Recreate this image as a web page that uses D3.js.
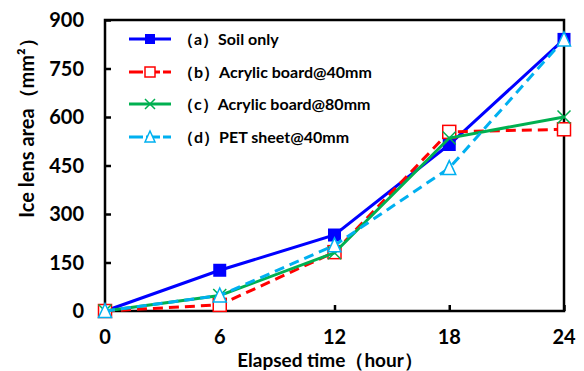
<!DOCTYPE html>
<html><head><meta charset="utf-8">
<script src="https://cdn.jsdelivr.net/npm/d3@7"></script>
<style>body{margin:0;background:#fff}svg{display:block}text{font-family:Lato,"Open Sans",sans-serif;font-weight:bold;fill:#000}</style>
</head><body><svg id="c" width="584" height="371"></svg>
<script>
const hours = [0, 6, 12, 18, 24];
const soilOnly = [0, 126, 235, 515, 840];
const acrylic40 = [0, 19, 182, 554, 562];
const acrylic80 = [0, 48, 180, 535, 600];
const pet40 = [0, 48, 203, 442, 840];
const yTicks = [0, 150, 300, 450, 600, 750, 900];
const xTicks = [0, 6, 12, 18, 24];
const seriesNames = ["（a）Soil only", "（b）Acrylic board@40mm", "（c）Acrylic board@80mm", "（d）PET sheet@40mm"];
const xTitle = "Elapsed time（hour）";
const yTitle = "Ice lens area（mm²）";

const svg = d3.select("#c");
const L = 105, R = 564, T = 20, B = 311;
const x = d3.scaleLinear().domain([0, 24]).range([L, R]);
const y = d3.scaleLinear().domain([0, 900]).range([B, T]);

// frame
svg.append("rect").attr("x", L).attr("y", T).attr("width", R - L).attr("height", B - T)
  .attr("fill", "none").attr("stroke", "#000").attr("stroke-width", 2.5);

// axes
const yAxis = d3.axisRight(y).tickValues(yTicks).tickSize(6).tickFormat("");
const gy = svg.append("g").attr("transform", `translate(${L},0)`).call(yAxis);
gy.select(".domain").remove();
gy.selectAll("line").attr("stroke", "#000").attr("stroke-width", 2.5);
const xAxis = d3.axisTop(x).tickValues(xTicks).tickSize(6).tickFormat("");
const gx = svg.append("g").attr("transform", `translate(0,${B})`).call(xAxis);
gx.select(".domain").remove();
gx.selectAll("line").attr("stroke", "#000").attr("stroke-width", 2.5);

// tick labels
svg.selectAll(".yl").data(yTicks).enter().append("text")
  .attr("x", L - 21).attr("y", d => y(d)).attr("dy", "0.36em")
  .attr("text-anchor", "end").attr("font-size", 20).text(d => d);
svg.selectAll(".xl").data(xTicks).enter().append("text")
  .attr("x", d => x(d)).attr("y", 344)
  .attr("text-anchor", "middle").attr("font-size", 20).text(d => d);

// titles
svg.append("text").attr("x", 330).attr("y", 367).attr("text-anchor", "middle")
  .attr("font-size", 19).text(xTitle);
svg.append("text").attr("transform", "translate(34,123) rotate(-90)")
  .attr("text-anchor", "middle").attr("font-size", 20).text(yTitle);

const series = [
  {name: seriesNames[0], vals: soilOnly, color: "#0000FF", dash: null, marker: "fsquare"},
  {name: seriesNames[1], vals: acrylic40, color: "#FF0000", dash: "10,6", marker: "osquare"},
  {name: seriesNames[2], vals: acrylic80, color: "#00B050", dash: null, marker: "cross"},
  {name: seriesNames[3], vals: pet40, color: "#00B0F0", dash: "10,6", marker: "tri"}
];

function drawMarker(g, type, cx, cy, color, s) {
  if (type === "fsquare") {
    g.append("rect").attr("x", cx - s/2).attr("y", cy - s/2).attr("width", s).attr("height", s).attr("fill", color);
  } else if (type === "osquare") {
    g.append("rect").attr("x", cx - s/2).attr("y", cy - s/2).attr("width", s).attr("height", s)
      .attr("fill", "#fff").attr("stroke", color).attr("stroke-width", 1.5);
  } else if (type === "cross") {
    const h = s/2;
    g.append("path").attr("d", `M${cx-h},${cy-h}L${cx+h},${cy+h}M${cx-h},${cy+h}L${cx+h},${cy-h}`)
      .attr("stroke", color).attr("stroke-width", 1.5).attr("fill", "none");
  } else if (type === "tri") {
    const h = s/2;
    g.append("path").attr("d", `M${cx},${cy-h-1}L${cx+h},${cy+h}L${cx-h},${cy+h}Z`)
      .attr("stroke", color).attr("stroke-width", 1.5).attr("fill", "#fff");
  }
}

const line = d3.line().x((d, i) => x(hours[i])).y(d => y(d));
series.forEach(s => {
  const g = svg.append("g");
  g.append("path").datum(s.vals).attr("d", line).attr("fill", "none")
    .attr("stroke", s.color).attr("stroke-width", 3)
    .attr("stroke-dasharray", s.dash);
  s.vals.forEach((v, i) => drawMarker(g, s.marker, x(hours[i]), y(v), s.color, 13));
});

// legend
const legY = [39, 72, 104, 137];
series.forEach((s, i) => {
  const g = svg.append("g");
  g.append("line").attr("x1", 129).attr("x2", 171).attr("y1", legY[i]).attr("y2", legY[i])
    .attr("stroke", s.color).attr("stroke-width", 3).attr("stroke-dasharray", s.dash ? "14,3" : null);
  drawMarker(g, s.marker, 150, legY[i], s.color, 10);
  g.append("text").attr("x", 178).attr("y", legY[i]).attr("dy", "0.35em")
    .attr("font-size", 16).text(s.name);
});
</script></body></html>
